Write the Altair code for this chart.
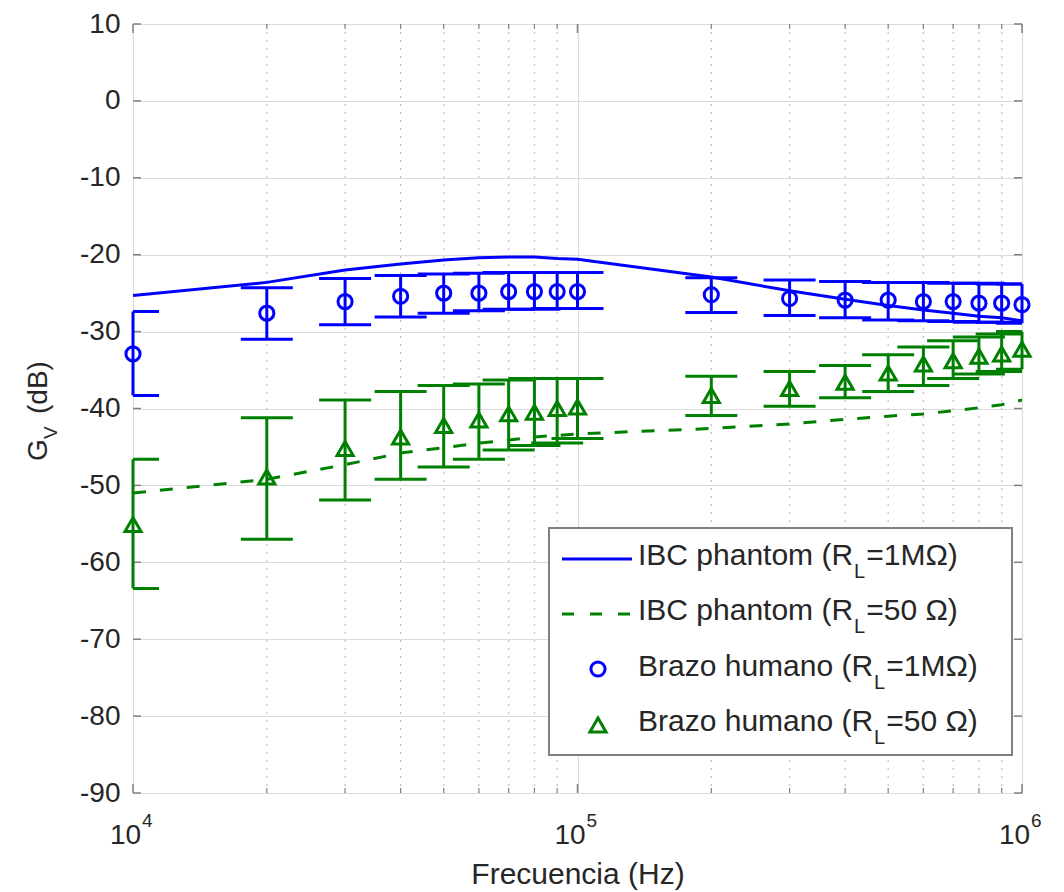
import altair as alt
import pandas as pd

# ---------------- data ----------------
freq = [10000, 20000, 30000, 40000, 50000, 60000, 70000, 80000, 90000,
        100000, 200000, 300000, 400000, 500000, 600000, 700000, 800000, 900000, 1000000]

phantom_1M = [-25.3, -23.6, -22.0, -21.2, -20.7, -20.4, -20.3, -20.3, -20.5, -20.6,
              -22.9, -24.7, -25.8, -26.6, -27.2, -27.6, -28.0, -28.2, -28.6]
phantom_50 = [-51.0, -49.2, -47.3, -45.8, -45.1, -44.5, -44.1, -43.7, -43.5, -43.3,
              -42.6, -42.0, -41.4, -41.0, -40.7, -40.3, -39.9, -39.5, -38.9]

arm_1M = [-32.9, -27.6, -26.1, -25.4, -25.0, -25.0, -24.8, -24.8, -24.8, -24.8,
          -25.2, -25.7, -25.9, -25.9, -26.1, -26.1, -26.3, -26.3, -26.5]
arm_1M_hi = [-27.4, -24.3, -23.1, -22.7, -22.5, -22.4, -22.3, -22.3, -22.3, -22.3,
             -23.0, -23.3, -23.5, -23.6, -23.6, -23.7, -23.7, -23.8, -23.8]
arm_1M_lo = [-38.3, -31.0, -29.1, -28.1, -27.6, -27.3, -27.1, -27.1, -27.0, -27.0,
             -27.5, -27.9, -28.2, -28.5, -28.6, -28.7, -28.8, -28.8, -28.9]

arm_50 = [-55.1, -48.9, -45.2, -43.7, -42.2, -41.5, -40.7, -40.5, -40.0, -39.8,
          -38.3, -37.4, -36.6, -35.4, -34.2, -33.8, -33.2, -32.9, -32.3]
arm_50_hi = [-46.6, -41.2, -38.9, -37.8, -37.0, -36.8, -36.3, -36.1, -36.1, -36.1,
             -35.8, -35.2, -34.4, -33.0, -32.0, -31.2, -30.7, -30.3, -30.0]
arm_50_lo = [-63.4, -57.0, -51.9, -49.2, -47.6, -46.6, -45.4, -44.8, -44.5, -43.9,
             -40.9, -39.7, -38.6, -37.8, -37.0, -36.1, -35.5, -35.2, -34.9]

x_major = [10000, 100000, 1000000]
x_exponent = ["4", "5", "6"]
x_minor = [20000, 30000, 40000, 50000, 60000, 70000, 80000, 90000,
           200000, 300000, 400000, 500000, 600000, 700000, 800000, 900000]
y_ticks = [-90, -80, -70, -60, -50, -40, -30, -20, -10, 0, 10]

legend_pre = ["IBC phantom (R", "IBC phantom (R", "Brazo humano (R", "Brazo humano (R"]
legend_sub = ["L", "L", "L", "L"]
legend_post = ["=1M\u03a9)", "=50 \u03a9)", "=1M\u03a9)", "=50 \u03a9)"]

x_title = "Frecuencia (Hz)"
y_title_parts = ["G", "V", "(dB)"]

# ---------------- style ----------------
FONT = "Liberation Sans"
TXT = "#262626"
FRAME = "#808080"
GRID = "#dcdcdc"
MINOR = "#c0c0c0"
BLUE = "#0000ff"
GREEN = "#008000"
W, H = 889, 769
TOP = 16

ARIAL = {' ': 278, '(': 333, ')': 333, '=': 584, '0': 556, '1': 556, '5': 556,
         'B': 667, 'C': 722, 'I': 278, 'L': 556, 'M': 833, 'R': 722, 'a': 556,
         'h': 556, 'm': 833, 'n': 556, 'o': 556, 'p': 556, 'r': 333, 't': 278,
         'u': 556, 'z': 500, '\u03a9': 768}


def tw(s, fs):
    return sum(ARIAL.get(c, 556) for c in s) * fs / 1000.0


xs = alt.Scale(type="log", domain=[10000, 1000000], nice=False)
ys = alt.Scale(domain=[-90, 10], nice=False, zero=False)

x_axis = alt.Axis(values=x_major, labelExpr="'10'", grid=True, gridColor=GRID, gridWidth=1.2,
                  ticks=False, tickSize=0, domain=False, labelFont=FONT, labelFontSize=28,
                  labelColor=TXT, labelBaseline="alphabetic", labelPadding=50, labelOffset=-8,
                  labelFlush=False, labelOverlap=False, labelBound=False,
                  title=x_title, titleFont=FONT, titleFontSize=30, titleFontWeight="normal",
                  titleColor=TXT, titleY=90, titleBaseline="alphabetic", zindex=0)
y_axis = alt.Axis(values=y_ticks, labelExpr="datum.value + ''", grid=True, gridColor=GRID,
                  gridWidth=1.2, ticks=False, tickSize=0, domain=False, labelFont=FONT,
                  labelFontSize=28, labelColor=TXT, labelPadding=13, title=None, zindex=0)

df = pd.DataFrame({"f": freq, "p1": phantom_1M, "p50": phantom_50,
                   "a1": arm_1M, "a1hi": arm_1M_hi, "a1lo": arm_1M_lo,
                   "a50": arm_50, "a50hi": arm_50_hi, "a50lo": arm_50_lo})
major_df = pd.DataFrame({"f": x_major, "e": x_exponent})
minor_df = pd.DataFrame({"f": x_minor})
yt_df = pd.DataFrame({"v": y_ticks})
one = pd.DataFrame({"k": [0]})

X = alt.X("f:Q", scale=xs, axis=x_axis, title=x_title)


def Y(col):
    return alt.Y(col + ":Q", scale=ys, axis=y_axis, title=None)


layers = []

# minor dotted grid (under everything)
layers.append(alt.Chart(minor_df).mark_rule(color=MINOR, strokeWidth=1.2, strokeDash=[2, 6]).encode(
    x=X))

# inner ticks (box style)
layers.append(alt.Chart(major_df).mark_rule(color=FRAME, strokeWidth=1.5).encode(
    x=X, y=alt.value(H), y2=alt.value(H - 9)))
layers.append(alt.Chart(major_df).mark_rule(color=FRAME, strokeWidth=1.5).encode(
    x=X, y=alt.value(0), y2=alt.value(9)))
layers.append(alt.Chart(minor_df).mark_rule(color=FRAME, strokeWidth=1.2).encode(
    x=X, y=alt.value(H), y2=alt.value(H - 5)))
layers.append(alt.Chart(minor_df).mark_rule(color=FRAME, strokeWidth=1.2).encode(
    x=X, y=alt.value(0), y2=alt.value(5)))
layers.append(alt.Chart(yt_df).mark_rule(color=FRAME, strokeWidth=1.5).encode(
    y=Y("v"), x=alt.value(0), x2=alt.value(8)))
layers.append(alt.Chart(yt_df).mark_rule(color=FRAME, strokeWidth=1.5).encode(
    y=Y("v"), x=alt.value(W - 8), x2=alt.value(W)))

# exponents of x tick labels
layers.append(alt.Chart(major_df).mark_text(align="left", baseline="alphabetic", dx=9, fontSize=19,
                                            font=FONT, color=TXT).encode(
    x=X, y=alt.value(H + 34), text="e:N"))

# simulated curves
layers.append(alt.Chart(df).mark_line(color=BLUE, strokeWidth=3, clip=True).encode(
    x=X, y=Y("p1")))
layers.append(alt.Chart(df).mark_line(color=GREEN, strokeWidth=3, strokeDash=[13, 14], clip=True).encode(
    x=X, y=Y("p50")))

# error bars
for col, hi, lo in [(BLUE, "a1hi", "a1lo"), (GREEN, "a50hi", "a50lo")]:
    layers.append(alt.Chart(df).mark_rule(color=col, strokeWidth=3).encode(
        x=X, y=Y(lo), y2=alt.Y2(hi + ":Q")))
    for c in (hi, lo):
        layers.append(alt.Chart(df).mark_tick(color=col, orient="horizontal", size=52, thickness=3,
                                              clip=True, opacity=1).encode(
            x=X, y=Y(c)))

# measured points
layers.append(alt.Chart(df).mark_point(shape="circle", filled=False, color=BLUE, size=200,
                                       strokeWidth=3, opacity=1).encode(
    x=X, y=Y("a1")))
layers.append(alt.Chart(df).mark_point(shape="triangle-up", filled=False, color=GREEN, size=260,
                                       strokeWidth=3, opacity=1).encode(
    x=X, y=Y("a50")))

# ---------------- legend ----------------
LX0, LY0, LX1, LY1 = 416, 504, 879, 731
layers.append(alt.Chart(one).mark_rect(fill="white", stroke=FRAME, strokeWidth=2).encode(
    x=alt.value(LX0), x2=alt.value(LX1), y=alt.value(LY0), y2=alt.value(LY1)))
row_y = [535, 590, 645, 701]
layers.append(alt.Chart(one).mark_rule(color=BLUE, strokeWidth=3).encode(
    x=alt.value(429), x2=alt.value(499), y=alt.value(row_y[0])))
layers.append(alt.Chart(one).mark_rule(color=GREEN, strokeWidth=3, strokeDash=[12, 16]).encode(
    x=alt.value(429), x2=alt.value(499), y=alt.value(row_y[1])))
layers.append(alt.Chart(one).mark_point(shape="circle", filled=False, color=BLUE, size=200,
                                        strokeWidth=3, opacity=1).encode(
    x=alt.value(465), y=alt.value(row_y[2])))
layers.append(alt.Chart(one).mark_point(shape="triangle-up", filled=False, color=GREEN, size=260,
                                        strokeWidth=3, opacity=1).encode(
    x=alt.value(465), y=alt.value(row_y[3])))

LFS, SFS = 30, 20
base_y = [541, 596, 652, 707]
for pre, sub, post, by in zip(legend_pre, legend_sub, legend_post, base_y):
    x0 = 505
    xs1 = x0 + tw(pre, LFS) + 1
    xs2 = xs1 + tw(sub, SFS) + 1
    for txt, xx, yy, fs in [(pre, x0, by, LFS), (sub, xs1, by + 13, SFS), (post, xs2, by, LFS)]:
        layers.append(alt.Chart(one).mark_text(align="left", baseline="alphabetic", font=FONT,
                                               fontSize=fs, color=TXT, text=txt).encode(
            x=alt.value(xx), y=alt.value(yy)))

# ---------------- y title (with subscript) ----------------
for txt, xx, yy, fs in [(y_title_parts[0], -86, 437, 28), (y_title_parts[1], -76, 415, 19),
                        (y_title_parts[2], -86, 390, 28)]:
    layers.append(alt.Chart(one).mark_text(align="left", baseline="alphabetic", angle=270, font=FONT,
                                           fontSize=fs, color=TXT, text=txt).encode(
        x=alt.value(xx), y=alt.value(yy)))

chart = alt.layer(*layers).properties(
    width=W, height=H,
    autosize=alt.AutoSizeParams(type="none"),
    padding={"left": 125, "top": TOP, "right": 30, "bottom": 98},
).configure_view(stroke=FRAME, strokeWidth=2).configure(font=FONT)

chart.save("out.html", embed_options={"renderer": "svg", "actions": False})
